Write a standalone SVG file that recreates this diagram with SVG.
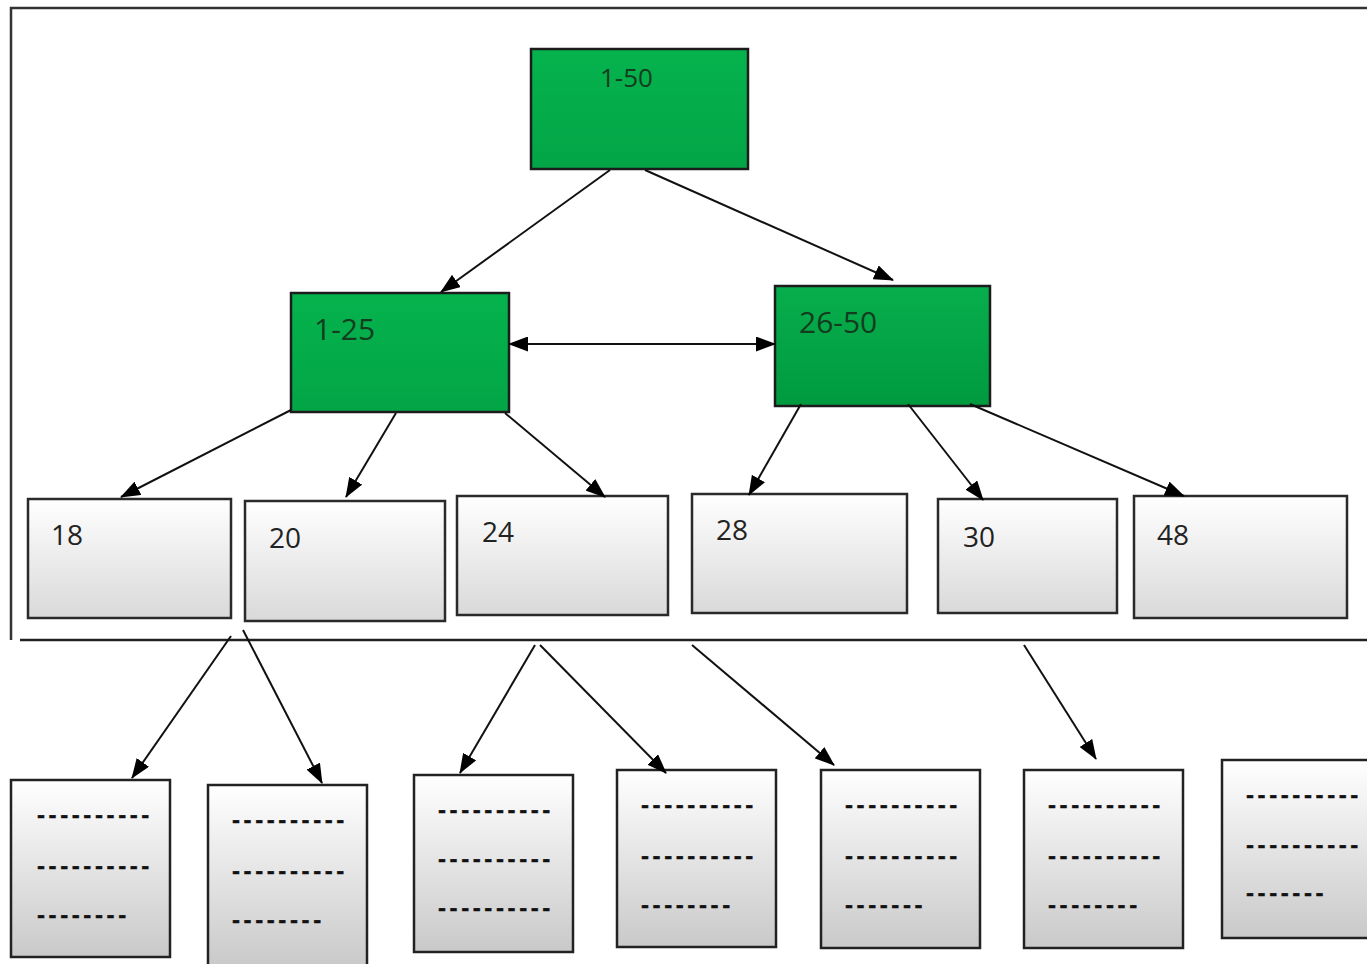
<svg xmlns="http://www.w3.org/2000/svg" width="1367" height="964" viewBox="0 0 1367 964">
<defs>
<linearGradient id="gGreen" x1="0" y1="0" x2="0" y2="1">
<stop offset="0" stop-color="#05b34d"/>
<stop offset="1" stop-color="#03a546"/>
</linearGradient>
<linearGradient id="gGreen2" x1="0" y1="0" x2="0" y2="1">
<stop offset="0" stop-color="#07ae4c"/>
<stop offset="1" stop-color="#009a3f"/>
</linearGradient>
<linearGradient id="gLeaf" x1="0" y1="0" x2="0" y2="1">
<stop offset="0" stop-color="#ffffff"/>
<stop offset="1" stop-color="#d9d9d9"/>
</linearGradient>
<linearGradient id="gPage" x1="0" y1="0" x2="0" y2="1">
<stop offset="0" stop-color="#ffffff"/>
<stop offset="1" stop-color="#c9c9c9"/>
</linearGradient>
<marker id="arr" viewBox="0 0 20 15" refX="19" refY="7.5" markerWidth="20" markerHeight="15" markerUnits="userSpaceOnUse" orient="auto-start-reverse">
<path d="M0,0 L20,7.5 L0,15 z" fill="#000"/>
</marker>
</defs>
<style>
.frame{stroke:#333;stroke-width:2.5;fill:none}
.inner{stroke:#222;stroke-width:2.5}
.green{fill:url(#gGreen);stroke:#1c1c1c;stroke-width:2.5}
.green2{fill:url(#gGreen2);stroke:#1c1c1c;stroke-width:2.5}
.leaf{fill:url(#gLeaf);stroke:#2a2a2a;stroke-width:2.5}
.page{fill:url(#gPage);stroke:#222;stroke-width:2.5}
.gl{font-family:"Open Sans","Liberation Sans",sans-serif;font-size:30px;fill:#143c1e}
.gl0{font-family:"Open Sans","Liberation Sans",sans-serif;font-size:26px;fill:#143c1e}
.ll{font-family:"Open Sans","Liberation Sans",sans-serif;font-size:28px;fill:#222}
.dash{font-family:"Liberation Sans",sans-serif;font-size:24px;font-weight:bold;fill:#111;stroke:#111;stroke-width:0.4;letter-spacing:3.6px}
.conn{stroke:#111;stroke-width:2;fill:none;marker-end:url(#arr)}
</style>
<rect width="1367" height="964" fill="#fff"/>
<g id="frame">
<polyline class="frame" points="11,640 11,8 1367,8"/>
<line class="inner" x1="20" y1="640" x2="1367" y2="640"/>
</g>
<g id="n1-50"><rect class="green" x="531" y="49" width="217" height="120"/><text class="gl0" x="600" y="87">1-50</text></g>
<g id="n1-25"><rect class="green" x="291" y="293" width="218" height="119"/><text class="gl" x="314" y="340">1-25</text></g>
<g id="n26-50"><rect class="green2" x="775" y="286" width="215" height="120"/><text class="gl" x="799" y="333">26-50</text></g>
<g id="l18"><rect class="leaf" x="28" y="499" width="203" height="119"/><text class="ll" x="51" y="545">18</text></g>
<g id="l20"><rect class="leaf" x="245" y="501" width="200" height="120"/><text class="ll" x="269" y="548">20</text></g>
<g id="l24"><rect class="leaf" x="457" y="496" width="211" height="119"/><text class="ll" x="482" y="542">24</text></g>
<g id="l28"><rect class="leaf" x="692" y="494" width="215" height="119"/><text class="ll" x="716" y="540">28</text></g>
<g id="l30"><rect class="leaf" x="938" y="499" width="179" height="114"/><text class="ll" x="963" y="547">30</text></g>
<g id="l48"><rect class="leaf" x="1134" y="496" width="213" height="122"/><text class="ll" x="1157" y="545">48</text></g>
<g id="p1"><rect class="page" x="11" y="780" width="159" height="177"/>
<text class="dash" x="37" y="823">----------</text><text class="dash" x="37" y="874">----------</text><text class="dash" x="37" y="923">--------</text></g>
<g id="p2"><rect class="page" x="208" y="785" width="159" height="182"/>
<text class="dash" x="232" y="828">----------</text><text class="dash" x="232" y="879">----------</text><text class="dash" x="232" y="928">--------</text></g>
<g id="p3"><rect class="page" x="414" y="775" width="159" height="177"/>
<text class="dash" x="438" y="818">----------</text><text class="dash" x="438" y="867">----------</text><text class="dash" x="438" y="916">----------</text></g>
<g id="p4"><rect class="page" x="617" y="770" width="159" height="177"/>
<text class="dash" x="641" y="813">----------</text><text class="dash" x="641" y="864">----------</text><text class="dash" x="641" y="913">--------</text></g>
<g id="p5"><rect class="page" x="821" y="770" width="159" height="178"/>
<text class="dash" x="845" y="813">----------</text><text class="dash" x="845" y="864">----------</text><text class="dash" x="845" y="913">-------</text></g>
<g id="p6"><rect class="page" x="1024" y="770" width="159" height="178"/>
<text class="dash" x="1048" y="813">----------</text><text class="dash" x="1048" y="864">----------</text><text class="dash" x="1048" y="913">--------</text></g>
<g id="p7"><rect class="page" x="1222" y="760" width="160" height="178"/>
<text class="dash" x="1246" y="803">----------</text><text class="dash" x="1246" y="853">----------</text><text class="dash" x="1246" y="901">-------</text></g>
<g id="connectors">
<line class="conn" x1="610" y1="170" x2="441" y2="292"/>
<line class="conn" x1="645" y1="170" x2="893" y2="280"/>
<line class="conn" x1="509" y1="344" x2="775" y2="344" marker-start="url(#arr)"/>
<line class="conn" x1="291" y1="410" x2="121" y2="497"/>
<line class="conn" x1="396" y1="413" x2="346" y2="497"/>
<line class="conn" x1="505" y1="413" x2="605" y2="497"/>
<line class="conn" x1="801" y1="404" x2="749" y2="495"/>
<line class="conn" x1="908" y1="404" x2="983" y2="500"/>
<line class="conn" x1="970" y1="404" x2="1184" y2="496"/>
<line class="conn" x1="231" y1="636" x2="132" y2="778"/>
<line class="conn" x1="243" y1="630" x2="322" y2="783"/>
<line class="conn" x1="535" y1="645" x2="460" y2="773"/>
<line class="conn" x1="540" y1="645" x2="666" y2="773"/>
<line class="conn" x1="692" y1="645" x2="834" y2="765"/>
<line class="conn" x1="1024" y1="645" x2="1096" y2="759"/>
</g>
</svg>
